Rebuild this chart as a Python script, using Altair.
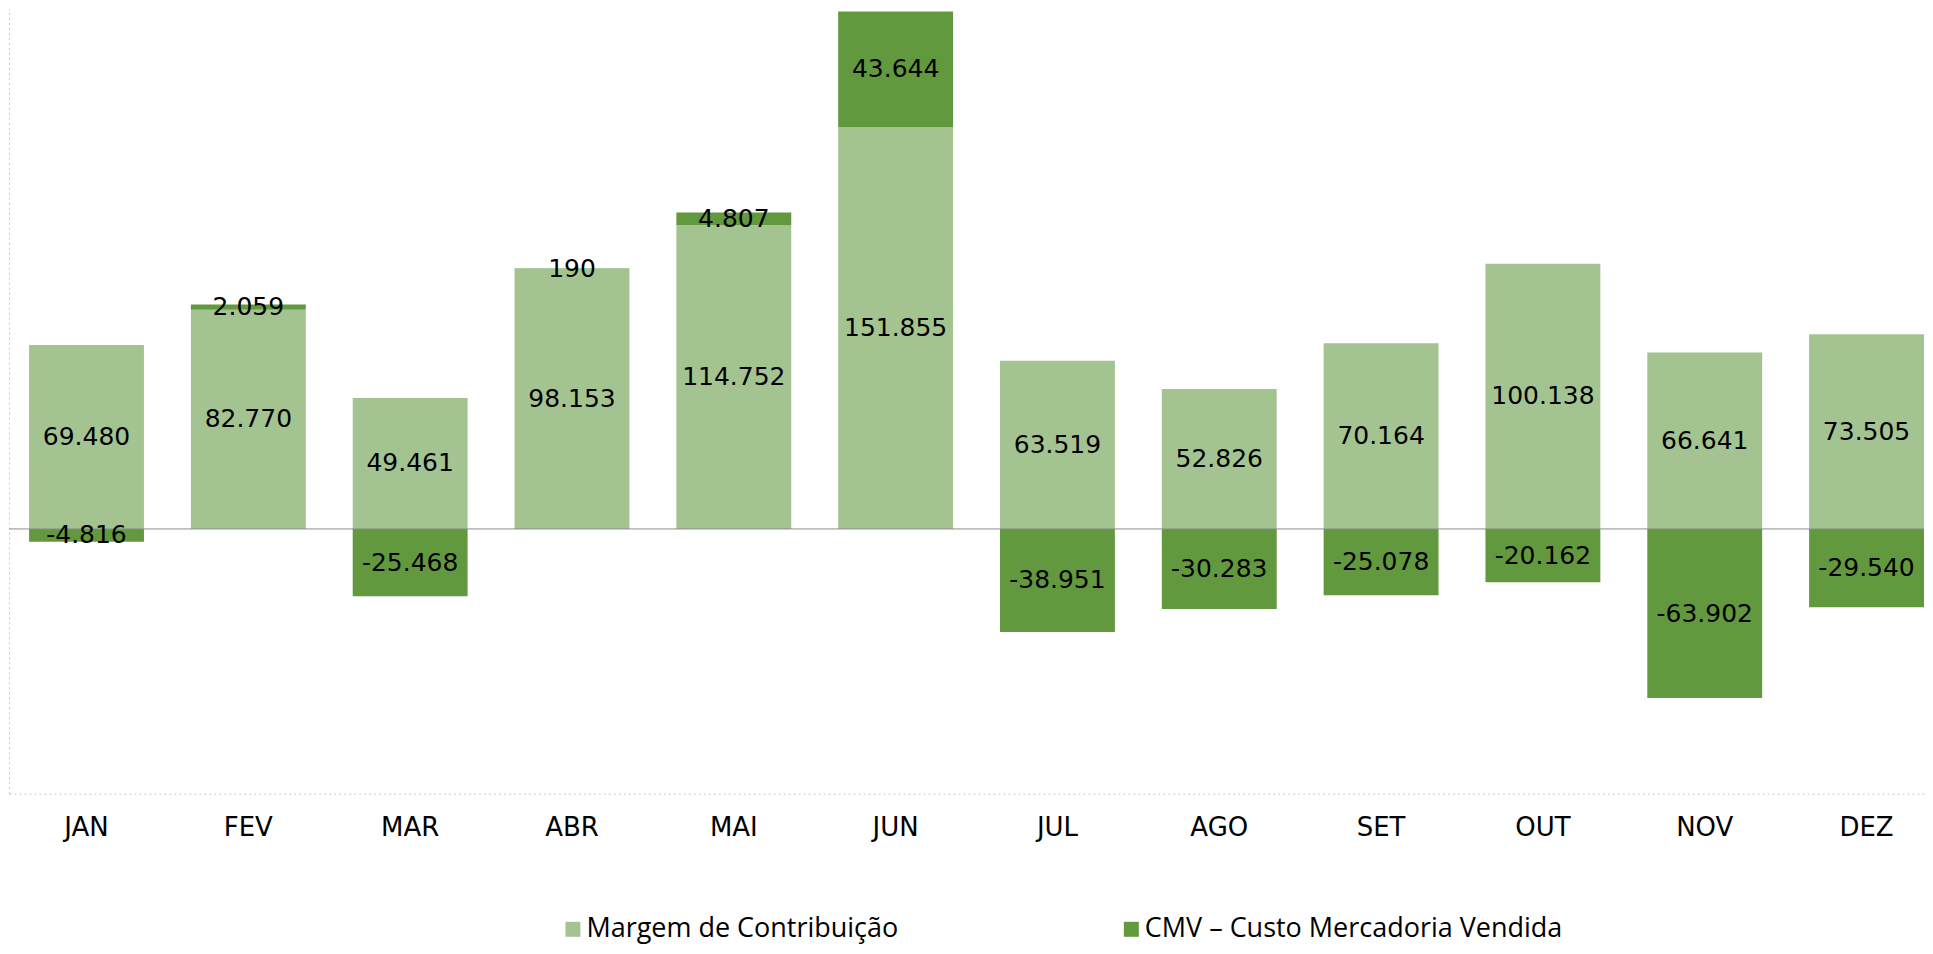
import altair as alt
import pandas as pd

meses = ["JAN", "FEV", "MAR", "ABR", "MAI", "JUN", "JUL", "AGO", "SET", "OUT", "NOV", "DEZ"]
margem = [69480, 82770, 49461, 98153, 114752, 151855, 63519, 52826, 70164, 100138, 66641, 73505]
cmv = [-4816, 2059, -25468, 190, 4807, 43644, -38951, -30283, -25078, -20162, -63902, -29540]
series = ["Margem de Contribuição", "CMV – Custo Mercadoria Vendida"]
cores = ["#A3C491", "#62993E"]


def fmt(v):
    return f"{v:,}".replace(",", ".")


rows = []
for i, m in enumerate(meses):
    rows.append({"mes": m, "serie": series[0], "ord": 0, "valor": margem[i], "rotulo": fmt(margem[i])})
    rows.append({"mes": m, "serie": series[1], "ord": 1, "valor": cmv[i], "rotulo": fmt(cmv[i])})
df = pd.DataFrame(rows)

FONT = "Open Sans"
LFONT = "DejaVu Sans"

xenc = alt.X(
    "mes:N",
    sort=meses,
    scale=alt.Scale(paddingInner=0.29, paddingOuter=0.062, align=1),
    axis=alt.Axis(
        title=None, ticks=False, labelAngle=0, labelFontSize=26, labelFont=LFONT,
        labelColor="#000000", labelPadding=21, domainColor="#C8C8C8",
        domainDash=[2, 3], domainWidth=1,
    ),
)
yscale = alt.Scale(domain=[-100000, 196600], nice=False, zero=False)

base = alt.Chart(df).transform_stack(
    stack="valor", groupby=["mes"], sort=[alt.SortField("ord")], as_=["v0", "v1"], offset="zero"
).transform_calculate(mid="(datum.v0 + datum.v1) / 2")

bars = base.mark_bar().encode(
    x=xenc,
    y=alt.Y(
        "v0:Q", scale=yscale,
        axis=alt.Axis(title=None, labels=False, ticks=False, grid=False,
                      domainColor="#C8C8C8", domainDash=[2, 3], domainWidth=1),
    ),
    y2="v1:Q",
    color=alt.Color(
        "serie:N",
        scale=alt.Scale(domain=series, range=cores),
        legend=alt.Legend(
            title=None, orient="none", legendX=551, legendY=908, direction="horizontal",
            labelFont=FONT, labelFontSize=27, labelColor="#000000", labelLimit=0,
            symbolType="square", symbolSize=225, symbolStrokeWidth=0, labelOffset=0,
            columnPadding=219, padding=0,
        ),
    ),
)

zero = alt.Chart(pd.DataFrame({"z": [0]})).mark_rule(color="#8C8C8C", strokeWidth=1).encode(
    y=alt.Y("z:Q", scale=yscale)
)

labels = base.mark_text(font=LFONT, fontSize=25, color="#000000", baseline="middle").encode(
    x=xenc,
    y=alt.Y("mid:Q", scale=yscale),
    text="rotulo:N",
)

chart = alt.layer(bars, zero, labels).properties(
    width=1917, height=786,
    padding={"left": 0, "top": 0, "right": 0, "bottom": 3},
    background="#FFFFFF",
).configure_view(stroke=None)

chart.save("out.html", embed_options={"renderer": "svg", "actions": False})
